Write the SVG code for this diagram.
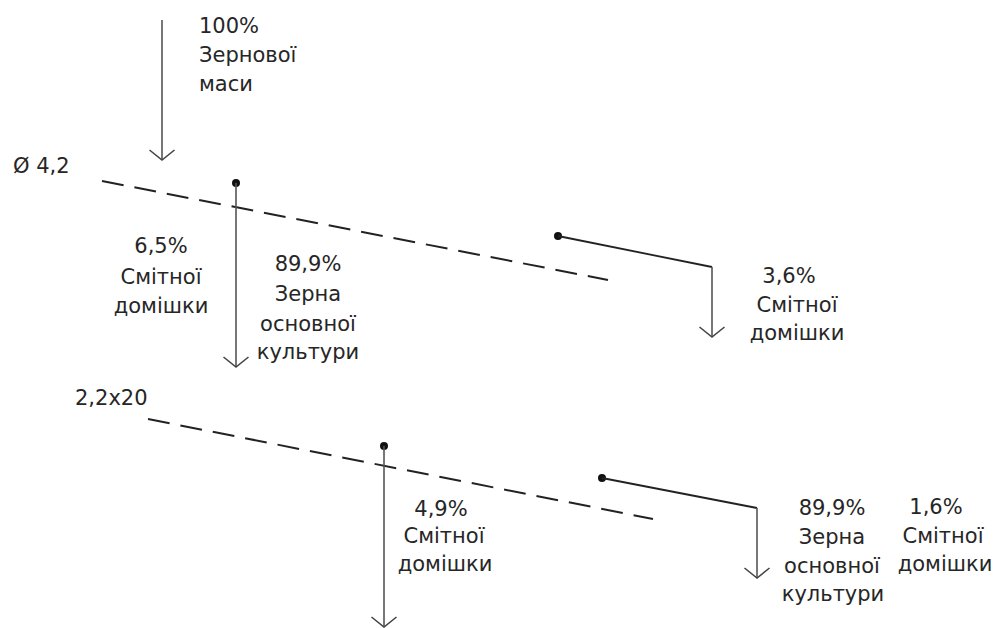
<svg xmlns="http://www.w3.org/2000/svg" width="993" height="628" viewBox="0 0 993 628">
  <style>
    text { font-family: "DejaVu Sans", "Liberation Sans", sans-serif; font-size: 21px; fill: #262626; }
    .c { text-anchor: middle; }
    .dash { fill: none; stroke: #222; stroke-width: 2; stroke-dasharray: 22 11; }
    .flow { fill: none; stroke: #555; stroke-width: 1.6; }
    .feed { fill: none; stroke: #222; stroke-width: 1.8; }
    .dot { fill: #111; }
  </style>
  <defs>
    <marker id="arr" viewBox="-12 -14 14 28" refX="0" refY="0" markerWidth="14" markerHeight="28" markerUnits="userSpaceOnUse" orient="auto">
      <path d="M-10,-12.5 L0,0 L-10,12.5" fill="none" stroke="#444" stroke-width="1.6"/>
    </marker>
  </defs>
  <rect width="993" height="628" fill="#ffffff"/>

  <g id="connectors">
    <line class="flow" x1="162" y1="20" x2="162" y2="160" marker-end="url(#arr)"/>
    <line id="sieve1" class="dash" x1="102" y1="181" x2="608" y2="280"/>
    <line id="sieve2" class="dash" x1="148" y1="419" x2="653" y2="519"/>
    <circle class="dot" cx="236" cy="183" r="4"/>
    <line class="flow" x1="236" y1="183" x2="236" y2="367" marker-end="url(#arr)"/>
    <circle class="dot" cx="558" cy="236" r="4"/>
    <polyline class="feed" points="558,236 712,267"/>
    <polyline class="flow" points="712,267 712,337" marker-end="url(#arr)"/>
    <circle class="dot" cx="384" cy="446" r="4"/>
    <line class="flow" x1="384" y1="446" x2="384" y2="627" marker-end="url(#arr)"/>
    <circle class="dot" cx="602" cy="478" r="4"/>
    <polyline class="feed" points="602,478 757,508"/>
    <polyline class="flow" points="757,508 757,578" marker-end="url(#arr)"/>
  </g>

  <g id="input">
    <text x="199" y="33">100%</text>
    <text x="199" y="62">Зернової</text>
    <text x="199" y="91">маси</text>
  </g>

  <g id="sieve1-label">
    <text x="13" y="173">Ø 4,2</text>
  </g>

  <g id="out-6-5">
    <text class="c" x="161" y="253">6,5%</text>
    <text class="c" x="161" y="284">Смітної</text>
    <text class="c" x="161" y="313">домішки</text>
  </g>

  <g id="out-89-9-a">
    <text class="c" x="308" y="271">89,9%</text>
    <text class="c" x="308" y="301">Зерна</text>
    <text class="c" x="308" y="331">основної</text>
    <text class="c" x="308" y="359">культури</text>
  </g>

  <g id="out-3-6">
    <text class="c" x="789" y="283">3,6%</text>
    <text class="c" x="797" y="312">Смітної</text>
    <text class="c" x="797" y="340">домішки</text>
  </g>

  <g id="sieve2-label">
    <text x="75" y="405">2,2x20</text>
  </g>

  <g id="out-4-9">
    <text class="c" x="441" y="516">4,9%</text>
    <text class="c" x="444" y="543">Смітної</text>
    <text class="c" x="445" y="571">домішки</text>
  </g>

  <g id="out-89-9-b">
    <text class="c" x="832" y="515">89,9%</text>
    <text class="c" x="832" y="544">Зерна</text>
    <text class="c" x="832" y="573">основної</text>
    <text class="c" x="833" y="601">культури</text>
  </g>

  <g id="out-1-6">
    <text class="c" x="936" y="514">1,6%</text>
    <text class="c" x="943" y="543">Смітної</text>
    <text class="c" x="945" y="571">домішки</text>
  </g>
</svg>
